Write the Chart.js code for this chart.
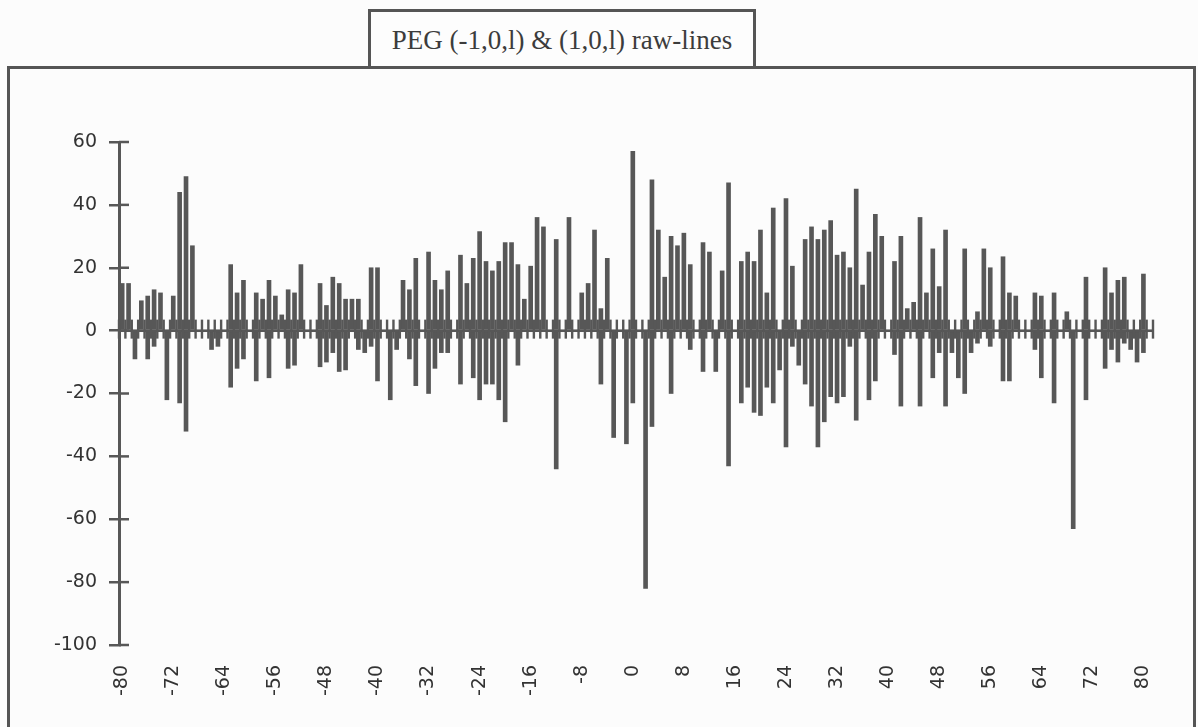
<!DOCTYPE html>
<html>
<head>
<meta charset="utf-8">
<script src="https://cdn.jsdelivr.net/npm/chart.js@4.4.0/dist/chart.umd.min.js"></script>
<style>
  body { margin: 0; background: #fcfcfc; }
  #wrap { position: relative; width: 1198px; height: 727px; overflow: hidden; }
  #frame { position: absolute; left: 7px; top: 66px; width: 1183px; height: 700px; border: 3.5px solid #555; }
  #title { position: absolute; left: 368px; top: 9px; width: 382px; height: 54px; border: 3px solid #555;
           background: #fdfdfd; font: 27px "Liberation Serif", serif; color: #3c3c3c; text-align: center; line-height: 57px; }
  canvas { position: absolute; left: 0; top: 0; }
</style>
</head>
<body>
<div id="wrap">
  <div id="frame"></div>
  <div id="title">PEG (-1,0,l) &amp; (1,0,l) raw-lines</div>
  <canvas id="pegChart" width="1198" height="727"></canvas>
</div>
<script>
// categories -80 .. 81, a label every 8
var positions = [];
for (let p = -80; p <= 81; p++) positions.push(p);

var yTicks = [60, 40, 20, 0, -20, -40, -60, -80, -100];

// upward lines, one per position (-80 .. 81)
var upValues = [
    15, 15, null, 9.5, 11, 13, 12, null, 11, 44,        // -80 .. -71
    49, 27, null, null, null, null, null, 21, 12, 16,   // -70 .. -61
    null, 12, 10, 16, 11, 5, 13, 12, 21, null,          // -60 .. -51
    null, 15, 8, 17, 15, 10, 10, 10, null, 20,          // -50 .. -41
    20, null, null, null, 16, 13, 23, null, 25, 16,     // -40 .. -31
    13, 19, null, 24, 15, 23, 31.5, 22, 19, 22,         // -30 .. -21
    28, 28, 21, 10, 20.5, 36, 33, null, 29, null,       // -20 .. -11
    36, null, 12, 15, 32, 7, 23, null, null, null,      // -10 .. -1
    57, null, null, 48, 32, 17, 30, 27, 31, 21,         // 0 .. 9
    null, 28, 25, null, 19, 47, null, 22, 25, 22,       // 10 .. 19
    32, 12, 39, null, 42, 20.5, null, 29, 33, 29,       // 20 .. 29
    32, 35, 24, 25, 20, 45, 14.5, 25, 37, 30,           // 30 .. 39
    null, 22, 30, 7, 9, 36, 12, 26, 14, 32,             // 40 .. 49
    null, null, 26, null, 6, 26, 20, null, 23.5, 12,    // 50 .. 59
    11, null, null, 12, 11, null, 12, null, 6, null,    // 60 .. 69
    null, 17, null, null, 20, 12, 16, 17, null, null,   // 70 .. 79
    18, null                                            // 80 .. 81
];

// downward lines, one per position (-80 .. 81)
var downValues = [
    null, null, -9, null, -9, -5, null, -22, null, -23,        // -80 .. -71
    -32, null, null, null, -6, -5, null, -18, -12, -9,         // -70 .. -61
    null, -16, null, -15, null, null, -12, -11, null, null,    // -60 .. -51
    null, -11.5, -10, -7, -13, -12.5, null, -6, -7, -5,        // -50 .. -41
    -16, null, -22, -6, null, -9, -17.5, null, -20, -12,       // -40 .. -31
    -7, -7, null, -17, null, -15, -22, -17, -17, -22,          // -30 .. -21
    -29, null, -11, null, null, null, null, null, -44, null,   // -20 .. -11
    null, null, null, null, null, -17, null, -34, null, -36,   // -10 .. -1
    -23, null, -82, -30.5, null, null, -20, null, null, -6,    // 0 .. 9
    null, -13, null, -13, null, -43, null, -23, -18, -26,      // 10 .. 19
    -27, -18, -23, -12.5, -37, -5, -11, -17, -24, -37,         // 20 .. 29
    -29, -21, -23, -21, -5, -28.5, null, -22, -16, null,       // 30 .. 39
    null, -7.6, -24, null, null, -24, null, -15, -7, -24,      // 40 .. 49
    -7, -15, -20, -7, -4, null, -5, null, -16, -16,            // 50 .. 59
    null, null, null, -6, -15, null, -23, null, null, -63,     // 60 .. 69
    null, -22, null, null, -12, -6, -10, -4, -6, -10,          // 70 .. 79
    -7, null                                                   // 80 .. 81
];

var ink = '#575757';

// zero axis with cross tick marks, and the inner half of the y ticks
var axisMarks = {
    id: 'axisMarks',
    afterDatasetsDraw(chart) {
        const ctx = chart.ctx;
        const area = chart.chartArea;
        const x = chart.scales.x;
        const y = chart.scales.y;
        const y0 = y.getPixelForValue(0);
        ctx.save();
        ctx.fillStyle = ink;
        ctx.fillRect(area.left, y0 - 1.2, area.right - area.left, 2.6);
        for (let i = 0; i <= positions.length; i++) {
            const px = x.getPixelForValue(i - 0.5);
            ctx.fillRect(px - 1.2, y0 - 11, 2.4, 19);
        }
        ctx.strokeStyle = ink;
        ctx.lineWidth = 2.5;
        for (let v of yTicks) {
            const py = y.getPixelForValue(v);
            ctx.beginPath();
            ctx.moveTo(area.left, py);
            ctx.lineTo(area.left + 10, py);
            ctx.stroke();
        }
        ctx.restore();
    }
};

var ctx = document.getElementById('pegChart').getContext('2d');

var pegChart = new Chart(ctx, {
    type: 'bar',
    data: {
        labels: positions,
        datasets: [{
            label: '(1,0,l)',
            data: upValues,
            backgroundColor: ink,
            grouped: false,
            barThickness: 4
        }, {
            label: '(-1,0,l)',
            data: downValues,
            backgroundColor: ink,
            grouped: false,
            barThickness: 4
        }]
    },
    options: {
        responsive: false,
        animation: false,
        layout: {
            padding: { top: 142, right: 45, bottom: 0, left: 0 }
        },
        plugins: {
            legend: { display: false },
            tooltip: { enabled: false }
        },
        scales: {
            x: {
                type: 'category',
                grid: { display: false, drawTicks: false },
                border: { display: false },
                afterFit: (scale) => { scale.height = 82; },
                ticks: {
                    autoSkip: false,
                    minRotation: 90,
                    maxRotation: 90,
                    padding: 20,
                    color: '#333',
                    font: { family: 'DejaVu Sans', size: 19 },
                    callback: function (value, index) {
                        const p = positions[index];
                        return p % 8 === 0 ? String(p) : '';
                    }
                }
            },
            y: {
                min: -100,
                max: 60,
                afterFit: (scale) => { scale.width = 119; },
                afterBuildTicks: (scale) => { scale.ticks = yTicks.map(v => ({ value: v })); },
                grid: {
                    drawOnChartArea: false,
                    tickLength: 10,
                    tickColor: ink,
                    lineWidth: 2.5
                },
                border: { color: ink, width: 3 },
                ticks: {
                    padding: 12,
                    color: '#333',
                    font: { family: 'DejaVu Sans', size: 19 }
                }
            }
        }
    },
    plugins: [axisMarks]
});
</script>
</body>
</html>
